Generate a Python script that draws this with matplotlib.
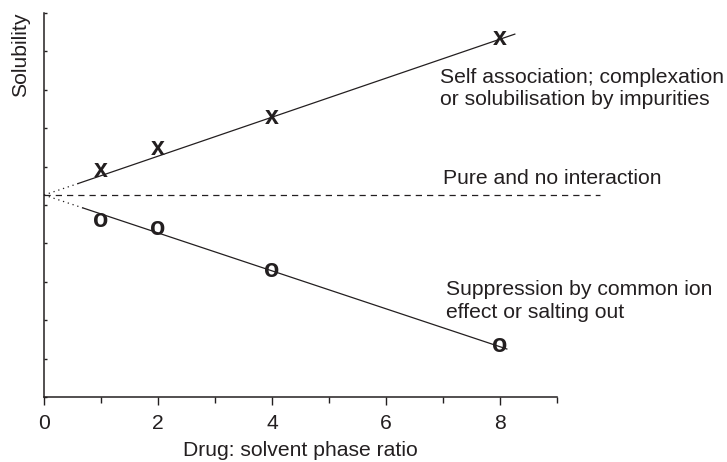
import matplotlib
matplotlib.use("Agg")
import matplotlib.pyplot as plt

plt.rcParams['font.family'] = ['Liberation Sans', 'DejaVu Sans']

# points (x = drug : solvent phase ratio, y = solubility, arbitrary units)
ratio = [1, 2, 4, 8]
sol_assoc = [5.91, 6.48, 7.30, 9.35]      # "x" markers
sol_suppress = [4.61, 4.39, 3.31, 1.35]   # "o" markers

# fitted lines: dotted extrapolation to origin, then solid
up_x = [0, 0.6, 8.26]
up_y = [5.26, 5.56, 9.45]
low_x = [0, 0.69, 8.12]
low_y = [5.26, 4.92, 1.25]
pure_x = [0, 9.75]
pure_y = [5.26, 5.26]

x_ticks = [0, 2, 4, 6, 8]
x_minor = [1, 3, 5, 7, 9]

ink = '#231f20'
fs = 15.2

fig = plt.figure(figsize=(7.27, 4.62), dpi=100)
ax = fig.add_axes([44 / 727, (462 - 397) / 462, (557 - 44) / 727, (397 - 13) / 462])
ax.set_xlim(0, 9)
ax.set_ylim(0, 10)

# lines
ax.plot(up_x[:2], up_y[:2], color=ink, lw=0.9, ls=(0, (1, 3)), clip_on=False)
ax.plot(up_x[1:], up_y[1:], color=ink, lw=0.9, clip_on=False)
ax.plot(low_x[:2], low_y[:2], color=ink, lw=0.9, ls=(0, (1, 3)), clip_on=False)
ax.plot(low_x[1:], low_y[1:], color=ink, lw=0.9, clip_on=False)
ax.plot(pure_x, pure_y, color=ink, lw=0.9, ls=(0, (5, 4)), clip_on=False)

# markers drawn as bold letters, like the original sketch
for xv, yv in zip(ratio, sol_assoc):
    ax.text(xv, yv, 'x', fontsize=18, fontweight='bold', color=ink,
            ha='center', va='center', clip_on=False)
for xv, yv in zip(ratio, sol_suppress):
    ax.text(xv, yv, 'o', fontsize=18, fontweight='bold', color=ink,
            ha='center', va='center', clip_on=False)

# annotations
ax.text(6.95, 8.57, 'Self association; complexation\nor solubilisation by impurities',
        fontsize=fs, color=ink, ha='left', va='top', linespacing=1.22, clip_on=False)
ax.text(7.0, 5.70, 'Pure and no interaction', fontsize=fs, color=ink,
        ha='left', va='center', clip_on=False)
ax.text(7.05, 3.05, 'Suppression by common ion\neffect or salting out',
        fontsize=fs, color=ink, ha='left', va='top', linespacing=1.3, clip_on=False)

# axes styling
for s in ['top', 'right']:
    ax.spines[s].set_visible(False)
for s in ['left', 'bottom']:
    ax.spines[s].set_linewidth(1.1)
    ax.spines[s].set_color(ink)

ax.set_xticks(x_ticks)
ax.set_xticks(x_minor, minor=True)
ax.tick_params(axis='x', which='major', direction='out', length=6, width=1.0,
               colors=ink, labelsize=fs, pad=6)
ax.tick_params(axis='x', which='minor', direction='out', length=4.5, width=1.0, colors=ink)
ax.set_yticks(range(0, 11))
ax.tick_params(axis='y', direction='in', length=2.5, width=1.0, colors=ink, labelleft=False)

ax.set_xlabel('Drug: solvent phase ratio', fontsize=fs, color=ink, labelpad=6)
ax.set_ylabel('Solubility', fontsize=fs, color=ink, loc='top', labelpad=10)

fig.savefig('out.png', dpi=100)
